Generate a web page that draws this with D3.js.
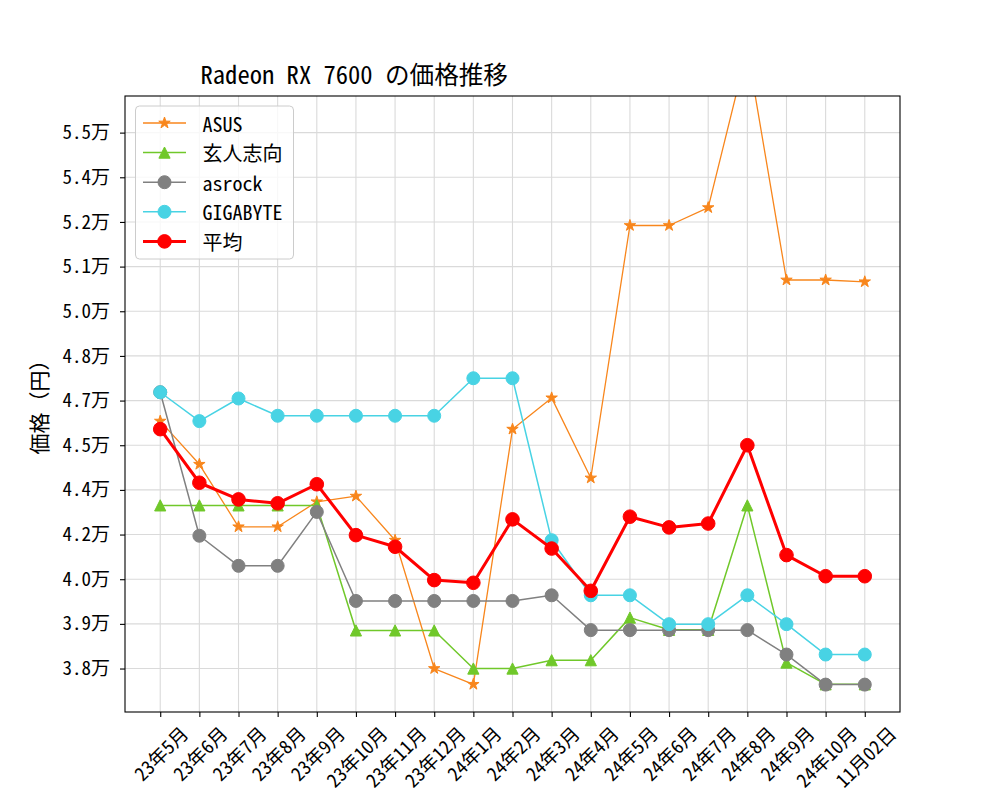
<!DOCTYPE html>
<html><head><meta charset="utf-8">
<script src="https://cdn.jsdelivr.net/npm/d3@7"></script>
<style>
body{margin:0;background:#fff;}
text{font-family:"Noto Sans Mono CJK JP","Noto Sans CJK JP","DejaVu Sans Mono",monospace;fill:#000;}
</style></head>
<body>
<svg id="chart" width="1000" height="800"></svg>
<script>
const categories = ["23年5月","23年6月","23年7月","23年8月","23年9月","23年10月","23年11月","23年12月","24年1月","24年2月","24年3月","24年4月","24年5月","24年6月","24年7月","24年8月","24年9月","24年10月","11月02日"];
const asus     = [45810,44360,42260,42260,43100,43290,41810,37500,36970,45540,46590,43900,52380,52380,52980,58300,50550,50550,50490];
const kurouto  = [42980,42980,42980,42980,42980,38780,38780,38780,37500,37500,37780,37780,39210,38800,38800,42980,37700,36970,36970];
const asrock   = [46780,41960,40950,40950,42760,39770,39770,39770,39770,39770,39960,38790,38790,38790,38790,38790,37970,36960,36960];
const gigabyte = [46780,45810,46570,45990,45990,45990,45990,45990,47250,47250,41810,39960,39960,38990,38990,39960,38990,37970,37970];
const average  = [45540,43740,43180,43050,43690,41980,41590,40470,40380,42510,41530,40110,42600,42240,42370,45000,41310,40600,40600];
const yTickValues = [37500,39000,40500,42000,43500,45000,46500,48000,49500,51000,52500,54000,55500];
const yTickLabels = ["3.8万","3.9万","4.0万","4.2万","4.4万","4.5万","4.7万","4.8万","5.0万","5.1万","5.2万","5.4万","5.5万"];
const seriesNames = ["ASUS","玄人志向","asrock","GIGABYTE","平均"];
const titleText = "Radeon RX 7600 の価格推移";
const yLabelText = "価格（円）";

const series = [
  {name:seriesNames[0], values:asus,     color:"#f8861c", lw:1.3, marker:"star"},
  {name:seriesNames[1], values:kurouto,  color:"#70c82a", lw:1.5, marker:"tri"},
  {name:seriesNames[2], values:asrock,   color:"#808080", lw:1.5, marker:"circle"},
  {name:seriesNames[3], values:gigabyte, color:"#48d3e4", lw:1.5, marker:"circle"},
  {name:seriesNames[4], values:average,  color:"#ff0000", lw:3,   marker:"circle"}
];

const L=125,R=900,T=96,B=712;
const svg=d3.select("#chart");
const x=d3.scalePoint().domain(categories).range([L,R]).padding(0.9);
const y=d3.scaleLinear().domain([36040,56730]).range([B,T]);

svg.append("defs").append("clipPath").attr("id","clip")
  .append("rect").attr("x",L).attr("y",T).attr("width",R-L).attr("height",B-T);

// grid
const grid=svg.append("g");
grid.selectAll("line.v").data(categories).join("line")
  .attr("x1",d=>x(d)).attr("x2",d=>x(d)).attr("y1",T).attr("y2",B)
  .attr("stroke","#dadada").attr("stroke-width",1.1);
grid.selectAll("line.h").data(yTickValues).join("line")
  .attr("y1",d=>y(d)).attr("y2",d=>y(d)).attr("x1",L).attr("x2",R)
  .attr("stroke","#dadada").attr("stroke-width",1.1);

function starPath(R){
  const r=R*0.381966;let p=[];
  for(let i=0;i<10;i++){const a=-Math.PI/2+i*Math.PI/5;const rr=i%2?r:R;p.push([rr*Math.cos(a),rr*Math.sin(a)]);}
  return "M"+p.map(q=>q.join(",")).join("L")+"Z";
}
function drawMarker(g,type,cx,cy,color,big){
  if(type==="circle"){
    g.append("circle").attr("cx",cx).attr("cy",cy).attr("r",big?6.8:6.5).attr("fill",color).attr("stroke",color).attr("stroke-width",1);
  } else if(type==="tri"){
    const h=5.6;
    g.append("path").attr("d",`M${cx},${cy-h}L${cx-h},${cy+h}L${cx+h},${cy+h}Z`).attr("fill",color).attr("stroke",color).attr("stroke-width",1);
  } else {
    g.append("path").attr("d",starPath(6)).attr("transform",`translate(${cx},${cy})`).attr("fill",color).attr("stroke",color).attr("stroke-width",1);
  }
}

const plot=svg.append("g").attr("clip-path","url(#clip)");
const line=d3.line().x((d,i)=>x(categories[i])).y(d=>y(d));
series.forEach((s,si)=>{
  const g=plot.append("g");
  g.append("path").attr("d",line(s.values)).attr("fill","none").attr("stroke",s.color).attr("stroke-width",s.lw).attr("stroke-linejoin","round");
  s.values.forEach((v,i)=>drawMarker(g,s.marker,x(categories[i]),y(v),s.color,si===4));
});

// axes
const yAxis=svg.append("g").attr("transform",`translate(${L},0)`)
  .call(d3.axisLeft(y).tickValues(yTickValues).tickFormat((d,i)=>yTickLabels[i]).tickSize(5).tickPadding(10));
yAxis.select(".domain").remove();
yAxis.selectAll("text").attr("font-size","19px").style("font-family",null);
yAxis.selectAll("line").attr("stroke","#000").attr("stroke-width",1.1);

const xAxis=svg.append("g").attr("transform",`translate(0,${B})`)
  .call(d3.axisBottom(x).tickSize(5).tickFormat(""));
xAxis.select(".domain").remove();
xAxis.selectAll("line").attr("stroke","#000").attr("stroke-width",1.1);
const fs=19;
const xl=svg.append("g");
categories.forEach(c=>{
  const t=xl.append("text").text(c).attr("font-size",fs+"px").attr("text-anchor","middle").attr("dominant-baseline","central");
  const len=t.node().getComputedTextLength();
  const H=(len+fs*1.1)*Math.SQRT1_2;
  const cy=B+9.7+H/2;
  t.attr("transform",`translate(${x(c)},${cy}) rotate(-45)`);
});

svg.append("rect").attr("x",L).attr("y",T).attr("width",R-L).attr("height",B-T)
  .attr("fill","none").attr("stroke","#000").attr("stroke-width",1.1);

// title & labels
svg.append("text").attr("x",200.5).attr("y",84).attr("font-size","24.6px").text(titleText);
svg.append("text").attr("transform","translate(47,402) rotate(-90)").attr("text-anchor","middle")
  .attr("font-size","21px").text(yLabelText);

// legend
const lg=svg.append("g");
lg.append("rect").attr("x",135.5).attr("y",106).attr("width",158).attr("height",153).attr("rx",4)
  .attr("fill","#fff").attr("fill-opacity",0.8).attr("stroke","#cccccc").attr("stroke-width",1);
series.forEach((s,i)=>{
  const cy=123+i*29.6;
  lg.append("line").attr("x1",143).attr("x2",186).attr("y1",cy).attr("y2",cy).attr("stroke",s.color).attr("stroke-width",s.lw);
  drawMarker(lg,s.marker,164.5,cy,s.color,i===4);
  lg.append("text").attr("x",202.5).attr("y",cy).attr("dominant-baseline","central").attr("font-size","20px").text(s.name);
});
</script>
</body></html>
